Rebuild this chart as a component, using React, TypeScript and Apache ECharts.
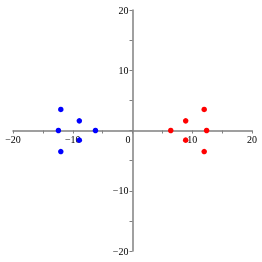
import React, { useEffect, useRef } from "react";
import * as echarts from "echarts";

const blueX = [-12.0, -8.9, -12.4, -6.2, -8.9, -12.0];
const blueY = [3.5, 1.6, 0, 0, -1.6, -3.5];
const redX = [12.0, 8.9, 6.4, 12.4, 8.9, 12.0];
const redY = [3.5, 1.6, 0, 0, -1.6, -3.5];
const axisMin = -20;
const axisMax = 20;
const tickStep = 10;

export default function App() {
  const ref = useRef<HTMLDivElement>(null);
  useEffect(() => {
    const chart = echarts.init(ref.current!, null, { renderer: "svg" });
    const fmt = (v: number) => (v < 0 ? "\u2212" + Math.abs(v) : String(v));
    const gridLeft = 13, gridRight = 10, gridTop = 10, gridBottom = 11;
    const w = 262 - gridLeft - gridRight;
    const h = 262 - gridTop - gridBottom;
    const axisCommon = {
      type: "value",
      min: axisMin,
      max: axisMax,
      interval: tickStep,
      axisLine: { show: true, onZero: false, lineStyle: { color: "#808080", width: 1.5 } },
      axisTick: { show: true, length: 3, lineStyle: { color: "#808080" } },
      minorTick: { show: true, splitNumber: 2, length: 3, lineStyle: { color: "#808080" } },
      splitLine: { show: false },
      minorSplitLine: { show: false },
    };
    chart.setOption({
      animation: false,
      grid: { left: gridLeft, right: gridRight, top: gridTop, bottom: gridBottom, outerBoundsMode: "none", containLabel: false },
      xAxis: {
        ...axisCommon,
        position: "bottom",
        offset: -h * (0 - axisMin) / (axisMax - axisMin),
        axisLabel: {
          show: true,
          showMinLabel: true,
          showMaxLabel: true,
          hideOverlap: false,
          margin: 4,
          color: "#000",
          fontFamily: "Liberation Serif",
          fontSize: 10,
          formatter: (v: number) => (v === 0 ? "{z|0}" : fmt(v)),
          rich: { z: { padding: [0, 9, 0, 0], fontFamily: "Liberation Serif", fontSize: 10, color: "#000" } },
        },
      },
      yAxis: {
        ...axisCommon,
        position: "left",
        offset: -w * (0 - axisMin) / (axisMax - axisMin),
        axisLabel: {
          show: true,
          showMinLabel: true,
          showMaxLabel: true,
          hideOverlap: false,
          margin: 4,
          color: "#000",
          fontFamily: "Liberation Serif",
          fontSize: 10,
          formatter: (v: number) => (v === 0 ? "" : fmt(v)),
        },
      },
      series: [
        {
          type: "scatter",
          data: blueX.map((x, i) => [x, blueY[i]]),
          symbolSize: 5.5,
          itemStyle: { color: "#0000ff", opacity: 1 },
          z: 5,
        },
        {
          type: "scatter",
          data: redX.map((x, i) => [x, redY[i]]),
          symbolSize: 5.5,
          itemStyle: { color: "#ff0000", opacity: 1 },
          z: 5,
        },
      ],
    });
    return () => chart.dispose();
  }, []);
  return <div ref={ref} style={{ position: "fixed", left: 0, top: 0, width: 262, height: 262 }} />;
}
